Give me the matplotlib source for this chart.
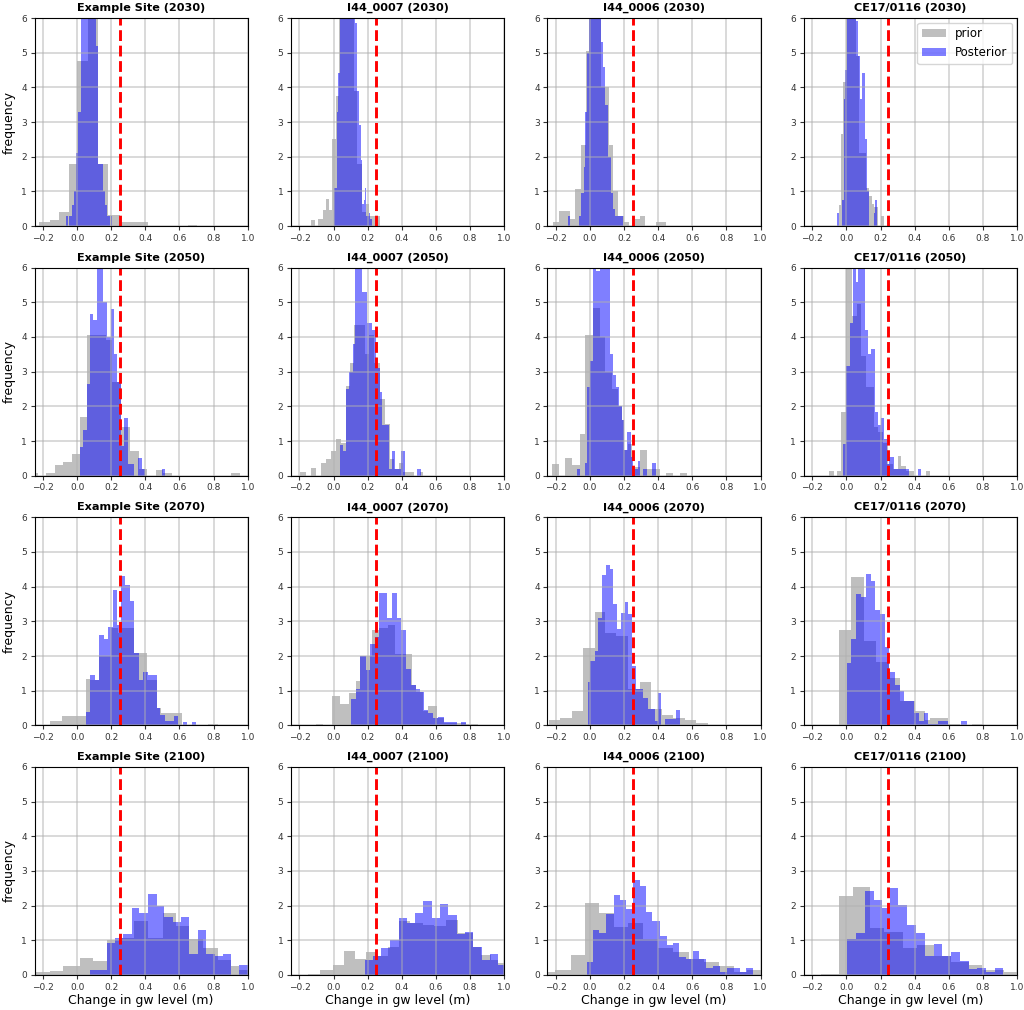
import matplotlib
matplotlib.use('Agg')
import matplotlib.pyplot as plt

sites = ['Example Site', 'I44_0007', 'I44_0006', 'CE17/0116']
years = [2030, 2050, 2070, 2100]
# threshold line for each site
thresholds = [0.25, 0.25, 0.25, 0.243]
x_ticks = [-0.2, 0.0, 0.2, 0.4, 0.6, 0.8, 1.0]
y_ticks = [0, 1, 2, 3, 4, 5, 6]

# values: bin edges and bar heights, bars above 6 are cut by the axis
# 2030
ex30_prior_x = [-.225, -.162, -.104, -.049, -.002, .0625, .125, .18, .25, .415, .65, .70]
ex30_prior_y = [.12, .16, .4, 1.8, 4.75, 6.6, 1.8, .33, .13, 0, .03]
ex30_post_x = [-.064, -.052, -.045, -.03, -.017, -.005, .006, .02, .11, .125, .15, .165, .178, .19, .197, .205, .212]
ex30_post_y = [.3, 0, .3, .6, 1.0, 2.1, 3.3, 6.6, 5.2, 1.8, 1.0, .6, .3, 0, .3, 0]

i7_30_prior_x = [-.132, -.109, -.09, -.064, -.045, -.025, -.008, .012, .03, .12, .14, .165, .19, .21, .245, .27]
i7_30_prior_y = [.18, 0, .2, .45, .78, .45, 2.5, 3.75, 6.6, 3.9, 1.8, .4, .63, .3, .3]
i7_30_post_x = [.004, .018, .027, .037, .124, .14, .148, .158, .167, .177, .187, .193, .205, .215, .225]
i7_30_post_y = [1.1, 3.3, 4.4, 6.6, 5.85, 3.9, 2.9, 1.9, .65, .75, 1.1, .3, .38, .2]

i6_30_prior_x = [-.218, -.179, -.12, -.086, -.055, -.026, -.008, .067, .11, .136, .165, .198, .228, .263, .293, .322, .387, .446]
i6_30_prior_y = [.13, .42, .2, 1.07, 2.35, 5.05, 6.6, 4.0, 2.35, 1.0, .28, .13, 0, .2, .3, 0, .13]
i6_30_post_x = [-.13, -.116, -.063, -.05, -.035, -.028, -.016, -.008, .067, .077, .09, .106, .122, .136, .149, .196]
i6_30_post_y = [.28, 0, .28, .95, 1.7, 3.3, 5.0, 6.6, 5.3, 4.6, 3.5, 2.0, .95, .5, .28]

ce_30_prior_x = [-.041, -.031, -.018, -.002, .057, .076, .115, .131, .15, .164, .184, .204, .223]
ce_30_prior_y = [.6, 2.65, 4.15, 6.6, 4.9, 2.1, 1.1, .88, .65, .55, 0, .3]
ce_30_post_x = [-.055, -.041, -.025, -.017, -.006, .004, .057, .07, .082, .092, .108, .118, .131, .16, .17, .18]
ce_30_post_y = [.38, 0, .75, 3.65, 4.5, 6.6, 5.9, 4.9, 3.65, 4.4, 2.5, 1.0, 0, .38, .75]

# 2050
ex50_prior_x = [-.25, -.23, -.182, -.127, -.084, -.031, .014, .057, .17, .205, .256, .31, .365, .408, .463, .502, .557, .902, .955]
ex50_prior_y = [.07, 0, .08, .3, .4, .62, 1.7, 4.07, 3.9, 2.7, 1.4, .7, .18, 0, .15, .08, 0, .07]
ex50_post_x = [.014, .033, .057, .076, .092, .115, .15, .174, .199, .215, .232, .256, .277, .297, .336, .359, .379, .398, .496, .518]
ex50_post_y = [.83, 1.33, 2.65, 4.65, 4.5, 6.6, 5.0, 4.0, 4.8, 3.5, 2.7, .85, 1.67, .33, 0, .5, .18, 0, .18]

i7_50_prior_x = [-.197, -.163, -.134, -.103, -.076, -.047, -.018, .014, .041, .07, .095, .119, .183, .206, .235, .27, .3, .329, .352, .381, .41, .469, .504, .527]
i7_50_prior_y = [.12, 0, .22, 0, .38, .48, .7, 1.05, .95, 2.6, 3.25, 4.35, 3.5, 4.05, 3.25, 2.2, 1.5, .48, .2, .38, .12, 0, .12]
i7_50_post_x = [.037, .056, .07, .089, .115, .128, .167, .198, .226, .251, .27, .286, .323, .342, .358, .397, .416, .49, .51]
i7_50_post_y = [.88, .7, 2.5, 3.0, 3.8, 6.6, 5.3, 4.4, 4.2, 3.1, 2.4, 1.45, .2, .7, .2, .7, 0, .18]

i6_50_prior_x = [-.224, -.183, -.145, -.106, -.061, -.028, .018, .057, .09, .126, .165, .189, .2, .22, .248, .293, .332, .411, .446, .485, .528, .568]
i6_50_prior_y = [.33, 0, .5, .32, 1.2, 4.07, 4.83, 4.0, 3.0, 2.5, 2.0, 1.6, .75, .9, .25, .75, .18, 0, .07, 0, .07]
i6_50_post_x = [-.075, -.059, -.031, -.02, -.002, .018, .037, .057, .116, .132, .155, .169, .185, .2, .218, .24, .253, .279, .293, .312, .332, .365, .387]
i6_50_post_y = [.2, 0, .37, 2.55, 3.3, 6.6, 5.9, 6.6, 3.5, 2.9, 2.55, 2.0, 1.6, .75, 1.27, .55, .2, .42, 0, .2, 0, .37]

ce_50_prior_x = [-.1, -.076, -.055, -.031, 0, .033, .063, .086, .115, .164, .184, .213, .243, .272, .301, .321, .35, .37, .395, .468, .491]
ce_50_prior_y = [.14, 0, .14, 1.85, 6.6, 4.6, 4.95, 3.45, 2.55, 1.4, 1.25, .95, .35, .18, .58, .28, .14, .14, 0, .14]
ce_50_post_x = [-.018, -.002, .018, .037, .057, .07, .106, .129, .145, .166, .184, .204, .219, .239, .252, .278, .366, .419, .438]
ce_50_post_y = [.9, 3.15, 4.4, 6.6, 5.6, 6.6, 4.2, 3.5, 3.65, 1.85, 1.45, 1.65, 1.05, .35, .55, .18, 0, .18]

# 2070
ex70_prior_x = [-.158, -.09, .053, .076, .131, .199, .24, .262, .336, .408, .467, .492, .615, .766, .828]
ex70_prior_y = [.12, .26, 1.33, 1.3, 2.0, 2.8, 2.65, 2.8, 2.1, 1.3, .5, .37, 0, .03]
ex70_post_x = [.053, .076, .107, .131, .158, .182, .209, .232, .26, .283, .311, .336, .365, .389, .414, .467, .488, .516, .57, .594, .619, .645, .672, .697]
ex70_post_y = [.38, 1.45, 1.3, 2.6, 2.5, 2.85, 3.9, 2.9, 4.3, 4.05, 3.6, 2.1, 1.3, 1.55, 1.45, .5, .3, .13, .28, 0, .1, 0, .1]

i7_70_prior_x = [-.103, -.06, -.008, .035, .089, .13, .154, .228, .265, .319, .362, .461, .484, .523, .556, .605, .65, .776, .844]
i7_70_prior_y = [.03, 0, .85, .62, .92, 1.27, 2.0, 2.75, 2.82, 2.9, 2.05, 1.15, .95, .4, .55, .22, .08, .03]
i7_70_post_x = [.101, .13, .154, .193, .216, .241, .265, .313, .344, .374, .397, .426, .455, .484, .508, .533, .556, .582, .611, .65, .722, .747, .776]
i7_70_post_y = [.75, 1.05, 2.0, 1.6, 2.35, 2.55, 3.83, 3.1, 3.83, 3.1, 2.75, 1.63, 1.15, 1.05, .95, .45, .35, .2, .25, .1, 0, .1]

i6_70_prior_x = [-.242, -.175, -.106, -.041, .028, .09, .155, .224, .293, .358, .42, .489, .558, .623, .692]
i6_70_prior_y = [.15, .22, .4, 2.22, 3.28, 2.65, 2.57, 1.05, 1.25, .47, .3, .2, .15, .07]
i6_70_post_x = [-.01, -.002, .002, .028, .047, .071, .092, .116, .136, .159, .181, .204, .224, .248, .267, .312, .338, .381, .401, .416, .44, .503, .528]
i6_70_post_y = [1.25, 0, 1.85, 2.15, 3.1, 4.35, 4.62, 4.5, 3.5, 2.78, 3.25, 3.55, 3.2, 1.7, 1.05, .8, .47, .12, .92, 0, .17, .45]

ce_70_prior_x = [-.045, .029, .102, .174, .247, .311, .399, .458, .487, .595, .667, .738, .804]
ce_70_prior_y = [2.75, 4.27, 2.42, 1.83, 1.37, .7, .4, .15, .2, .05, 0, .03]
ce_70_post_x = [.004, .029, .057, .086, .115, .145, .168, .198, .225, .252, .286, .311, .335, .395, .423, .452, .481, .536, .595, .673, .706]
ce_70_post_y = [1.8, 2.5, 3.8, 3.7, 4.37, 4.15, 3.33, 3.2, 2.27, 1.55, 1.17, 1.0, .7, .35, .13, .35, .05, .12, 0, .13]

# 2100
ex00_prior_x = [-.244, -.162, -.08, .014, .092, .174, .252, .336, .414, .502, .58, .658, .736, .824, .902, .951, 1.0]
ex00_prior_y = [.08, .12, .27, .5, .4, 1.0, 1.07, 1.55, 1.07, 1.78, 1.4, 1.05, .78, .42, .27, .15]
ex00_post_x = [.076, .174, .223, .271, .322, .365, .414, .467, .512, .561, .609, .658, .711, .756, .809, .854, .902, .951, 1.0]
ex00_post_y = [.15, .92, 1.08, 1.17, 1.93, 1.78, 2.33, 1.98, 1.67, 1.52, 1.68, .62, 1.3, .62, .55, .62, 0, .3]

i7_00_prior_x = [-.148, -.08, -.002, .062, .125, .193, .251, .319, .381, .446, .523, .591, .66, .728, .819, .864, .922, .965, 1.0]
i7_00_prior_y = [.03, .15, .3, .7, .45, .65, .55, .8, 1.55, 1.5, 1.45, 1.4, 1.6, 1.2, .8, .58, .42, .35]
i7_00_post_x = [.183, .232, .28, .329, .381, .43, .479, .527, .578, .625, .673, .724, .77, .819, .868, .916, .965, 1.0]
i7_00_post_y = [.42, .55, .77, 1.02, 1.65, 1.5, 1.78, 2.12, 1.63, 2.05, 1.72, 1.18, 1.25, .8, .42, .62, .3]

i6_00_prior_x = [-.251, -.208, -.114, -.028, .055, .138, .224, .312, .401, .489, .578, .666, .754, .843, .921, 1.0]
i6_00_prior_y = [.08, .15, .58, 2.07, 1.8, 1.38, 1.5, 1.05, .77, .65, .45, .37, .25, .1, .15]
i6_00_post_x = [-.02, .018, .055, .094, .138, .175, .21, .25, .293, .328, .365, .411, .45, .485, .523, .562, .603, .64, .68, .721, .76, .801, .84, .877, .916, .955]
i6_00_post_y = [.37, 1.3, 1.2, 1.75, 2.32, 2.17, 1.9, 2.75, 2.58, 1.82, 1.55, 1.13, .87, .93, .53, .47, .7, .45, .2, .27, .08, .2, .2, .08, .2]

ce_00_prior_x = [-.149, -.045, .041, .139, .223, .331, .413, .511, .614, .718, .796, .922, 1.0]
ce_00_prior_y = [.03, 2.28, 2.53, 1.35, 1.25, .77, .87, .55, .38, .3, .13, .1]
ce_00_post_x = [.004, .057, .108, .159, .209, .256, .305, .356, .405, .462, .511, .562, .614, .667, .718, .767, .816, .869, .918]
ce_00_post_y = [1.05, 1.2, 2.43, 2.17, 1.93, 2.5, 2.03, 1.45, 1.2, .55, .88, .55, .65, .4, .17, .2, .08, .2]

# one row per year, one entry per site
prior_x = [[ex30_prior_x, i7_30_prior_x, i6_30_prior_x, ce_30_prior_x],
           [ex50_prior_x, i7_50_prior_x, i6_50_prior_x, ce_50_prior_x],
           [ex70_prior_x, i7_70_prior_x, i6_70_prior_x, ce_70_prior_x],
           [ex00_prior_x, i7_00_prior_x, i6_00_prior_x, ce_00_prior_x]]
prior_y = [[ex30_prior_y, i7_30_prior_y, i6_30_prior_y, ce_30_prior_y],
           [ex50_prior_y, i7_50_prior_y, i6_50_prior_y, ce_50_prior_y],
           [ex70_prior_y, i7_70_prior_y, i6_70_prior_y, ce_70_prior_y],
           [ex00_prior_y, i7_00_prior_y, i6_00_prior_y, ce_00_prior_y]]
post_x = [[ex30_post_x, i7_30_post_x, i6_30_post_x, ce_30_post_x],
          [ex50_post_x, i7_50_post_x, i6_50_post_x, ce_50_post_x],
          [ex70_post_x, i7_70_post_x, i6_70_post_x, ce_70_post_x],
          [ex00_post_x, i7_00_post_x, i6_00_post_x, ce_00_post_x]]
post_y = [[ex30_post_y, i7_30_post_y, i6_30_post_y, ce_30_post_y],
          [ex50_post_y, i7_50_post_y, i6_50_post_y, ce_50_post_y],
          [ex70_post_y, i7_70_post_y, i6_70_post_y, ce_70_post_y],
          [ex00_post_y, i7_00_post_y, i6_00_post_y, ce_00_post_y]]

fig, axes = plt.subplots(4, 4, figsize=(10.24, 10.10), dpi=100)
fig.subplots_adjust(left=34.5/1024, right=1017/1024, top=1-18/1010, bottom=1-975/1010, wspace=0.203, hspace=0.2)

for r, year in enumerate(years):
    for c, site in enumerate(sites):
        ax = axes[r][c]
        ax.stairs(prior_y[r][c], prior_x[r][c], fill=True, color='grey', alpha=0.5, linewidth=0, label='prior')
        ax.stairs(post_y[r][c], post_x[r][c], fill=True, color='blue', alpha=0.5, linewidth=0, label='Posterior')
        ax.axvline(thresholds[c], color='red', linestyle='--', linewidth=2.1)
        ax.set_xlim(-0.25, 1.0)
        ax.set_ylim(0, 6)
        ax.set_xticks(x_ticks)
        ax.set_yticks(y_ticks)
        ax.tick_params(labelsize=6.5, length=3, pad=2.5, colors='#333333')
        # softer grid, it only shows faintly over the bars
        ax.grid(True, linewidth=1.1, alpha=0.6)
        ax.set_title(f'{site} ({year})', fontsize=8.1, fontweight='bold', pad=5)
        if c == 0:
            ax.set_ylabel('frequency', fontsize=9, labelpad=4)
        if r == 3:
            ax.set_xlabel('Change in gw level (m)', fontsize=9, labelpad=2)

axes[0][3].legend(loc='upper right', fontsize=8.5, borderaxespad=0.4)

plt.savefig('out.png', dpi=100)
